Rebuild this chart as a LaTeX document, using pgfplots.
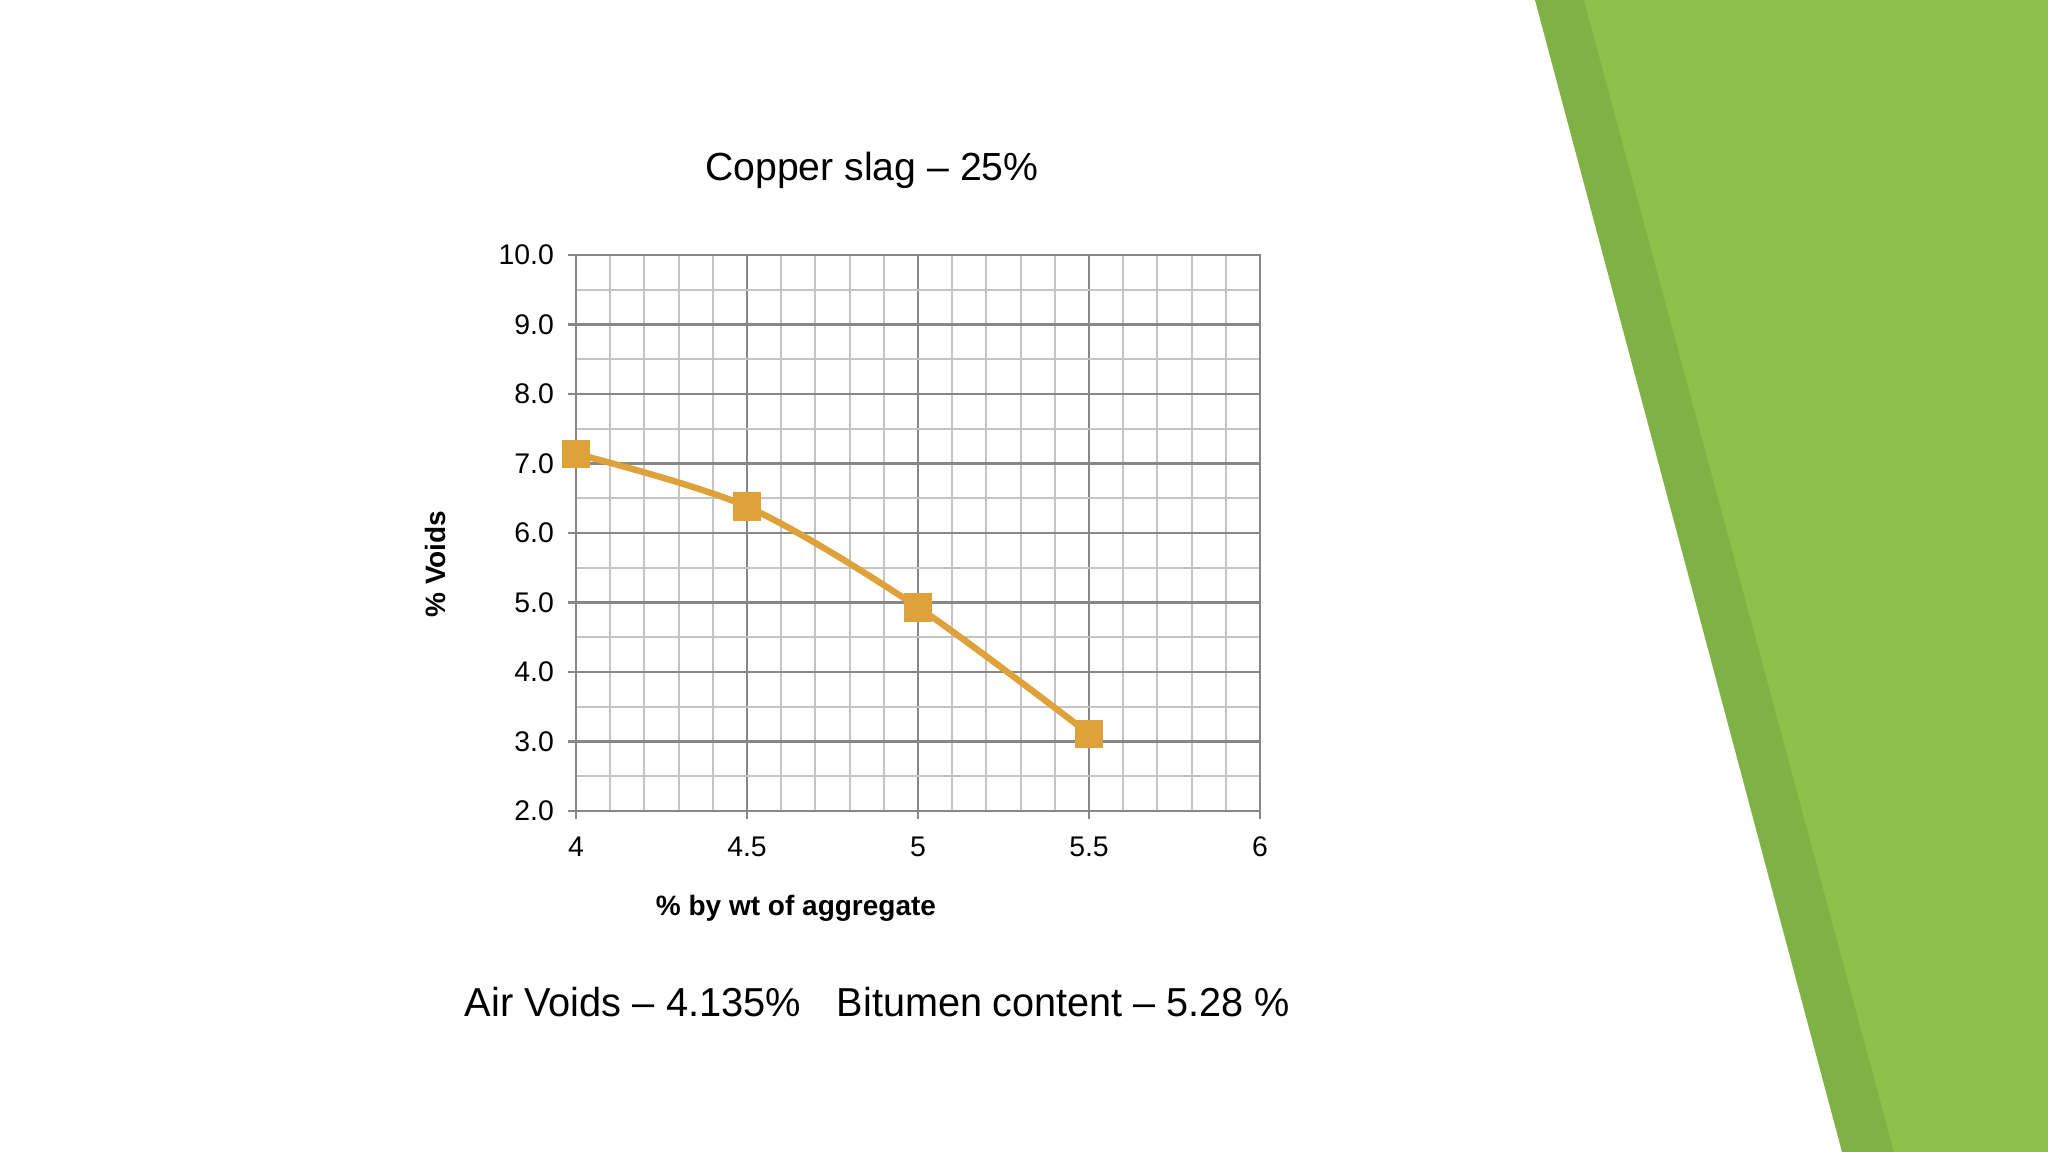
\documentclass[border=0pt]{standalone}
\usepackage{fontspec}
\setmainfont{Liberation Sans}
\usepackage{graphicx}
\usepackage{pgfplots}
\pgfplotsset{compat=1.18}

\definecolor{slagline}{HTML}{DFA23B}
\definecolor{majgrid}{HTML}{878787}
\definecolor{mingrid}{HTML}{C4C4C4}
\definecolor{greendark}{HTML}{7FB244}
\definecolor{greenlight}{HTML}{8CC24C}

\begin{document}
\begin{tikzpicture}[x=0.25pt,y=0.25pt]
% slide background and green side band (pixel grid 2048 x 1152, y up)
\fill[white] (0,0) rectangle (2048,1152);
\fill[greendark] (1535,1152) -- (2048,1152) -- (2048,0) -- (1842,0) -- cycle;
\fill[greenlight] (1584,1152) -- (2048,1152) -- (2048,0) -- (1894,0) -- cycle;
\coordinate (axSW) at (576,341);

\begin{axis}[
  at={(axSW)}, anchor=south west,
  scale only axis,
  width=171pt, height=139pt,
  xmin=4, xmax=6, ymin=2, ymax=10,
  xtick={4,4.5,5,5.5,6},
  ytick={2,3,...,10},
  minor x tick num=4,
  minor y tick num=1,
  grid=both,
  major grid style={majgrid, line width=0.6pt},
  minor grid style={mingrid, line width=0.5pt},
  axis line style={majgrid, line width=0.6pt},
  tick style={majgrid, line width=0.6pt},
  minor tick length=0pt,
  major tick length=2pt,
  tick align=outside,
  xtick pos=bottom, ytick pos=left,
  /pgf/number format/assume math mode=true,
  yticklabel={\pgfmathprintnumber[fixed,fixed zerofill,precision=1]{\tick}},
  xticklabel style={font=\fontsize{7.1}{8.5}\selectfont, yshift=-1pt},
  yticklabel style={font=\fontsize{7.1}{8.5}\selectfont, xshift=0pt},
  clip=false,
]
\addplot[slagline, line width=1.6pt, smooth, mark=square*,
  mark size=2.75pt, mark options={solid, fill=slagline, draw=slagline}]
  coordinates {(4,7.14) (4.5,6.38) (5,4.93) (5.5,3.11)};
\end{axis}

\node[anchor=base, inner sep=0pt, font=\fontsize{9.8}{12}\selectfont] at (872,971) {Copper slag – 25\%};
\node[anchor=base, inner sep=0pt, font=\fontsize{7}{8.5}\selectfont\bfseries] at (796,236) {\% by wt of aggregate};
\node[rotate=90, inner sep=0pt, font=\fontsize{7}{8.5}\selectfont\bfseries] at (435,588) {\% Voids};
\node[anchor=base west, inner sep=0pt, font=\fontsize{10.1}{12}\selectfont] at (464,135) {\scalebox{0.985}[1]{Air Voids – 4.135\%}};
\node[anchor=base west, inner sep=0pt, font=\fontsize{10.1}{12}\selectfont] at (836,135) {\scalebox{0.98}[1]{Bitumen content – 5.28 \%}};
\end{tikzpicture}
\end{document}
